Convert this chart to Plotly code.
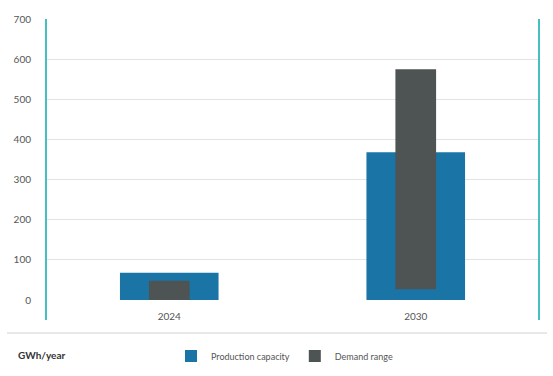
import plotly.graph_objects as go

years = ["2024", "2030"]
production_capacity = [68, 368]
demand_low = [0, 27]
demand_high = [48, 575]
y_ticks = [0, 100, 200, 300, 400, 500, 600, 700]

BLUE = "#1a75a6"
GREY = "#4e5354"
TEAL = "#45bfc2"

fig = go.Figure()
fig.add_trace(go.Bar(
    x=years, y=production_capacity, name="Production capacity",
    marker=dict(color=BLUE, line=dict(width=0)), width=0.40,
))
fig.add_trace(go.Bar(
    x=years, y=[h - l for h, l in zip(demand_high, demand_low)], base=demand_low,
    name="Demand range",
    marker=dict(color=GREY, line=dict(width=0)), width=0.165,
))

W, H = 553, 376
L, R, T, B = 46, 14, 19, 76
pw, ph = W - L - R, H - T - B

def px_x(x):
    return (x - L) / pw

def px_y(y):
    return (H - B - y) / ph

fig.update_layout(
    width=W, height=H,
    margin=dict(l=L, r=R, t=T, b=B, autoexpand=False),
    barmode="overlay",
    plot_bgcolor="white", paper_bgcolor="white",
    font=dict(family="Lato, Open Sans, sans-serif", size=10, color="#555555"),
    xaxis=dict(
        type="category", range=[-0.5, 1.5], showgrid=False, zeroline=False,
        showline=False, ticks="", tickfont=dict(size=10, color="#555555"),
        ticklabelstandoff=9, automargin=False,
    ),
    yaxis=dict(
        range=[0, 700], tickvals=y_ticks, showgrid=True, gridcolor="#e3e3e3",
        gridwidth=1, zeroline=False, showline=False, ticks="",
        tickfont=dict(size=10, color="#555555"), ticklabelstandoff=14,
        automargin=False,
    ),
    legend=dict(
        orientation="h", x=px_x(171), y=px_y(356), yanchor="middle", xanchor="left",
        font=dict(size=9, color="#555555"), traceorder="normal",
    ),
    showlegend=True,
)

# teal vertical frame lines
for xp in (0, 1):
    fig.add_shape(type="line", xref="paper", yref="paper",
                  x0=xp, x1=xp, y0=px_y(320), y1=1.0,
                  line=dict(color=TEAL, width=2))
# horizontal separator
fig.add_shape(type="line", xref="paper", yref="paper",
              x0=px_x(7), x1=px_x(547), y0=px_y(333), y1=px_y(333),
              line=dict(color="#e0e0e0", width=1.5))
fig.add_annotation(text="<b>GWh/year</b>", xref="paper", yref="paper",
                   x=px_x(16), y=px_y(355), xanchor="left", yanchor="middle",
                   showarrow=False, font=dict(size=10, color="#333333"))

fig.write_html("out.html", config={"displayModeBar": False},
               post_script="document.body.style.margin='0';")
